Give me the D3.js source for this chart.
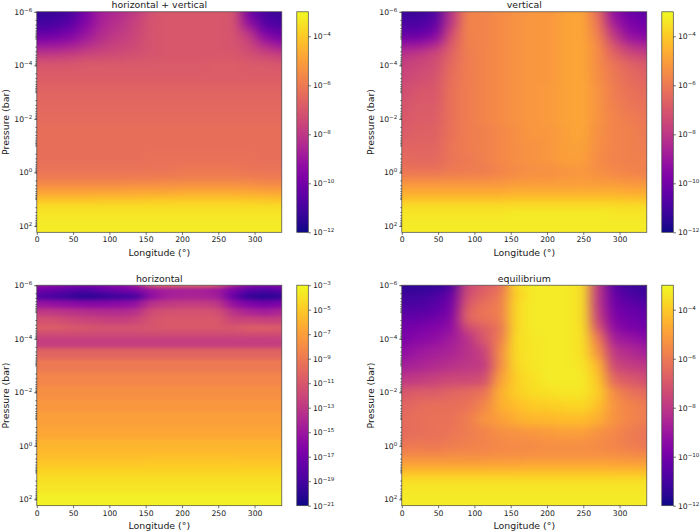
<!DOCTYPE html>
<html>
<head>
<meta charset="utf-8">
<script src="https://cdnjs.cloudflare.com/ajax/libs/d3/7.8.5/d3.min.js"></script>
<style>
body { margin: 0; background: #fff; }
text { font-family: "DejaVu Sans", sans-serif; fill: #222; }
</style>
</head>
<body>
<script>
// longitudes of the model columns (deg)
const longitudes = [0, 22.5, 45, 67.5, 90, 112.5, 135, 157.5, 180, 202.5, 225, 247.5, 270, 292.5, 315, 337.5];

// log10 pressure (bar) of the rows
const levels = [-6, -5.6, -5.3, -5, -4.7, -4.4, -4, -3.5, -3, -2.5, -2, -1.5, -1, -0.5, 0, 0.25, 0.5, 0.75, 1, 1.25, 1.5, 2, 2.24];
const fineLevels = [-6, -5.85, -5.6, -5.3, -5, -4.7, -4.4, -4.2, -4, -3.8, -3.5, -3, -2.5, -2, -1.5, -1, -0.5, 0, 0.25, 0.5, 0.75, 1, 1.25, 1.5, 2, 2.24];

// log10 abundance, one row per level, one value per longitude
const bothValues = [
  [-11.4,-11.3,-11.0,-9.8,-8.7,-8.4,-7.9,-7.2,-7.0,-7.0,-7.0,-7.0,-7.0,-10.0,-11.0,-11.3],
  [-11.1,-11.0,-10.6,-9.6,-8.6,-8.2,-7.7,-7.1,-7.0,-7.0,-7.0,-7.0,-7.1,-9.3,-10.7,-11.0],
  [-10.5,-10.4,-10.0,-9.2,-8.4,-8.0,-7.6,-7.1,-7.0,-7.0,-7.0,-7.0,-7.1,-8.3,-10.0,-10.4],
  [-9.8,-9.7,-9.4,-8.8,-8.2,-7.8,-7.5,-7.1,-7.0,-7.0,-7.0,-7.0,-7.1,-7.7,-9.2,-9.8],
  [-8.8,-8.8,-8.6,-8.2,-7.8,-7.6,-7.4,-7.1,-7.0,-7.0,-7.0,-7.0,-7.1,-7.4,-8.2,-8.8],
  [-7.8,-7.8,-7.7,-7.5,-7.4,-7.3,-7.2,-7.1,-7.0,-7.0,-7.0,-7.0,-7.0,-7.2,-7.5,-7.7],
  [-7.0,-7.0,-7.0,-6.9,-6.9,-6.9,-6.9,-6.9,-6.9,-6.9,-6.9,-6.8,-6.8,-6.9,-6.9,-7.0],
  [-6.8,-6.8,-6.8,-6.8,-6.8,-6.8,-6.8,-6.8,-6.8,-6.8,-6.8,-6.8,-6.8,-6.8,-6.8,-6.8],
  [-6.6,-6.6,-6.6,-6.6,-6.6,-6.6,-6.6,-6.6,-6.6,-6.6,-6.6,-6.6,-6.6,-6.6,-6.6,-6.6],
  [-6.5,-6.5,-6.5,-6.5,-6.5,-6.5,-6.5,-6.5,-6.5,-6.5,-6.5,-6.5,-6.5,-6.5,-6.5,-6.5],
  [-6.4,-6.4,-6.4,-6.4,-6.4,-6.4,-6.4,-6.4,-6.4,-6.4,-6.4,-6.4,-6.4,-6.4,-6.4,-6.4],
  [-6.3,-6.3,-6.3,-6.3,-6.3,-6.3,-6.3,-6.3,-6.3,-6.3,-6.3,-6.3,-6.3,-6.3,-6.3,-6.3],
  [-6.3,-6.3,-6.3,-6.3,-6.3,-6.3,-6.3,-6.3,-6.3,-6.3,-6.3,-6.3,-6.3,-6.3,-6.3,-6.3],
  [-6.3,-6.3,-6.3,-6.3,-6.3,-6.3,-6.3,-6.2,-6.2,-6.2,-6.2,-6.2,-6.2,-6.2,-6.3,-6.3],
  [-6.1,-6.1,-6.1,-6.1,-6.1,-6.1,-6.1,-6.1,-6.1,-6.0,-6.0,-6.0,-6.0,-6.1,-6.1,-6.1],
  [-5.9,-5.9,-5.9,-5.9,-5.9,-5.9,-5.9,-5.9,-5.8,-5.8,-5.8,-5.8,-5.8,-5.8,-5.9,-5.9],
  [-5.4,-5.4,-5.4,-5.4,-5.4,-5.4,-5.3,-5.3,-5.3,-5.3,-5.3,-5.3,-5.3,-5.3,-5.4,-5.4],
  [-4.9,-4.9,-4.9,-4.9,-4.8,-4.8,-4.8,-4.8,-4.8,-4.7,-4.7,-4.7,-4.7,-4.8,-4.8,-4.9],
  [-4.2,-4.2,-4.2,-4.2,-4.2,-4.2,-4.2,-4.1,-4.1,-4.1,-4.1,-4.1,-4.1,-4.1,-4.2,-4.2],
  [-3.6,-3.6,-3.6,-3.6,-3.6,-3.6,-3.6,-3.6,-3.6,-3.6,-3.6,-3.6,-3.6,-3.6,-3.6,-3.6],
  [-3.4,-3.4,-3.4,-3.4,-3.4,-3.4,-3.4,-3.4,-3.4,-3.4,-3.4,-3.4,-3.4,-3.4,-3.4,-3.4],
  [-3.3,-3.3,-3.3,-3.3,-3.3,-3.3,-3.3,-3.3,-3.3,-3.3,-3.3,-3.3,-3.3,-3.3,-3.3,-3.3],
  [-3.3,-3.3,-3.3,-3.3,-3.3,-3.3,-3.3,-3.3,-3.3,-3.3,-3.3,-3.3,-3.3,-3.3,-3.3,-3.3]
];

const verticalValues = [
  [-11.3,-11.3,-10.9,-8.2,-5.7,-5.7,-5.5,-5.3,-5.2,-5.2,-4.9,-4.8,-6.4,-9.3,-10.2,-10.5],
  [-10.9,-10.9,-10.5,-8.0,-5.7,-5.7,-5.5,-5.3,-5.2,-5.2,-4.9,-4.8,-6.1,-8.9,-9.8,-10.1],
  [-10.5,-10.5,-10.0,-7.5,-5.7,-5.7,-5.5,-5.3,-5.2,-5.2,-4.9,-4.8,-5.9,-8.2,-9.5,-9.8],
  [-9.8,-9.8,-9.3,-7.1,-5.8,-5.7,-5.5,-5.3,-5.2,-5.2,-4.9,-4.8,-5.7,-7.7,-9.0,-9.3],
  [-8.8,-8.7,-8.2,-6.8,-5.8,-5.7,-5.5,-5.3,-5.2,-5.2,-4.9,-4.8,-5.5,-7.0,-8.0,-8.4],
  [-8.1,-7.8,-7.5,-6.6,-5.9,-5.7,-5.5,-5.3,-5.2,-5.2,-4.9,-4.8,-5.5,-6.6,-7.3,-7.7],
  [-7.7,-7.5,-7.3,-6.4,-5.9,-5.7,-5.5,-5.3,-5.2,-5.2,-4.9,-4.8,-5.5,-6.1,-6.6,-6.9],
  [-7.5,-7.3,-7.1,-6.3,-5.9,-5.7,-5.5,-5.3,-5.2,-5.2,-4.9,-4.8,-5.4,-6.0,-6.4,-6.6],
  [-7.3,-7.0,-7.0,-6.2,-5.9,-5.7,-5.5,-5.3,-5.2,-5.1,-4.9,-4.8,-5.3,-5.9,-6.2,-6.4],
  [-7.1,-6.9,-6.9,-6.2,-5.9,-5.7,-5.5,-5.3,-5.2,-5.1,-4.9,-4.8,-5.3,-5.8,-6.1,-6.2],
  [-7.0,-6.8,-6.8,-6.2,-5.9,-5.7,-5.5,-5.3,-5.2,-5.1,-4.9,-4.8,-5.3,-5.7,-5.9,-6.1],
  [-6.9,-6.7,-6.7,-6.2,-5.9,-5.8,-5.6,-5.4,-5.2,-5.2,-5.0,-4.8,-5.4,-5.7,-5.8,-6.0],
  [-6.6,-6.6,-6.6,-6.1,-5.9,-5.8,-5.6,-5.4,-5.3,-5.2,-5.0,-4.9,-5.4,-5.7,-5.8,-5.9],
  [-6.4,-6.5,-6.5,-6.1,-6.0,-5.8,-5.6,-5.4,-5.3,-5.2,-5.0,-5.0,-5.5,-5.7,-5.8,-5.8],
  [-6.1,-6.1,-6.1,-6.0,-5.9,-5.9,-5.7,-5.5,-5.4,-5.4,-5.3,-5.2,-5.4,-5.6,-5.7,-5.8],
  [-5.6,-5.6,-5.6,-5.5,-5.5,-5.5,-5.4,-5.3,-5.2,-5.2,-5.1,-5.1,-5.2,-5.3,-5.4,-5.5],
  [-5.1,-5.1,-5.1,-5.1,-5.1,-5.1,-5.1,-5.0,-5.0,-5.0,-5.0,-5.0,-5.0,-5.0,-5.1,-5.1],
  [-4.7,-4.7,-4.7,-4.7,-4.7,-4.7,-4.7,-4.6,-4.6,-4.6,-4.6,-4.6,-4.6,-4.6,-4.7,-4.7],
  [-4.2,-4.2,-4.2,-4.2,-4.2,-4.2,-4.2,-4.1,-4.1,-4.1,-4.1,-4.1,-4.1,-4.1,-4.2,-4.2],
  [-3.6,-3.6,-3.6,-3.6,-3.6,-3.6,-3.6,-3.6,-3.6,-3.6,-3.6,-3.6,-3.6,-3.6,-3.6,-3.6],
  [-3.4,-3.4,-3.4,-3.4,-3.4,-3.4,-3.4,-3.3,-3.3,-3.3,-3.3,-3.3,-3.3,-3.4,-3.4,-3.4],
  [-3.3,-3.3,-3.3,-3.3,-3.3,-3.3,-3.3,-3.3,-3.3,-3.3,-3.3,-3.3,-3.3,-3.3,-3.3,-3.3],
  [-3.3,-3.3,-3.3,-3.3,-3.3,-3.3,-3.3,-3.3,-3.3,-3.3,-3.3,-3.3,-3.3,-3.3,-3.3,-3.3]
];

const horizontalValues = [
  [-15.2,-15.6,-16.0,-16.3,-16.0,-15.6,-14.7,-9.8,-9.1,-9.1,-9.1,-9.8,-13.8,-15.6,-16.0,-15.6],
  [-17.0,-17.4,-18.1,-18.5,-17.8,-17.0,-16.5,-15.2,-14.5,-14.5,-14.5,-14.9,-16.5,-18.1,-18.5,-17.8],
  [-18.4,-18.8,-19.5,-20.1,-19.6,-19.2,-19.0,-15.6,-14.5,-14.2,-14.2,-14.5,-17.4,-19.7,-20.1,-19.6],
  [-15.2,-15.4,-15.7,-16.0,-16.0,-15.8,-15.5,-13.2,-12.8,-12.6,-12.6,-12.8,-15.4,-16.4,-16.9,-16.4],
  [-12.9,-12.9,-13.2,-13.5,-13.7,-13.7,-13.5,-11.7,-11.4,-11.3,-11.3,-11.4,-13.3,-14.2,-14.6,-14.0],
  [-11.4,-11.4,-11.8,-12.2,-12.3,-12.5,-12.2,-11.2,-10.9,-10.9,-10.9,-10.9,-12.2,-12.2,-12.4,-12.4],
  [-10.6,-10.7,-10.9,-11.1,-11.3,-11.3,-11.3,-11.1,-10.9,-10.9,-10.9,-10.9,-11.1,-10.6,-10.6,-10.9],
  [-11.6,-11.6,-11.6,-11.7,-11.7,-11.7,-11.7,-11.6,-11.6,-11.6,-11.6,-11.6,-11.6,-11.5,-11.5,-11.6],
  [-12.4,-12.4,-12.4,-12.4,-12.4,-12.4,-12.4,-12.4,-12.4,-12.4,-12.4,-12.4,-12.4,-12.4,-12.4,-12.4],
  [-12.6,-12.6,-12.6,-12.6,-12.6,-12.6,-12.6,-12.6,-12.6,-12.6,-12.6,-12.6,-12.6,-12.6,-12.6,-12.6],
  [-10.2,-10.2,-10.2,-10.2,-10.2,-10.2,-10.2,-10.2,-10.2,-10.2,-10.2,-10.2,-10.2,-10.2,-10.2,-10.2],
  [-9.0,-9.0,-9.0,-9.0,-9.0,-9.0,-9.0,-9.0,-9.0,-9.0,-9.0,-9.0,-9.0,-9.0,-9.0,-9.0],
  [-8.3,-8.3,-8.3,-8.3,-8.3,-8.3,-8.3,-8.3,-8.3,-8.3,-8.3,-8.3,-8.3,-8.3,-8.3,-8.3],
  [-7.8,-7.8,-7.8,-7.8,-7.8,-7.8,-7.8,-7.8,-7.8,-7.8,-7.8,-7.8,-7.8,-7.8,-7.8,-7.8],
  [-7.4,-7.4,-7.4,-7.4,-7.4,-7.4,-7.4,-7.4,-7.4,-7.4,-7.4,-7.4,-7.4,-7.4,-7.4,-7.4],
  [-7.0,-7.0,-7.0,-7.0,-7.0,-7.0,-7.0,-7.0,-7.0,-7.0,-7.0,-7.0,-7.0,-7.0,-7.0,-7.0],
  [-6.6,-6.6,-6.6,-6.6,-6.6,-6.6,-6.6,-6.6,-6.6,-6.6,-6.6,-6.6,-6.6,-6.6,-6.6,-6.6],
  [-6.0,-6.0,-6.0,-6.0,-6.0,-6.0,-6.0,-6.0,-6.0,-6.0,-6.0,-6.0,-6.0,-6.0,-6.0,-6.0],
  [-5.7,-5.7,-5.7,-5.7,-5.7,-5.7,-5.7,-5.7,-5.7,-5.7,-5.7,-5.7,-5.7,-5.7,-5.7,-5.7],
  [-5.4,-5.4,-5.4,-5.4,-5.4,-5.4,-5.4,-5.3,-5.3,-5.3,-5.3,-5.3,-5.3,-5.4,-5.4,-5.4],
  [-5.0,-5.0,-5.0,-5.0,-5.0,-5.0,-5.0,-4.9,-4.9,-4.9,-4.9,-4.9,-4.9,-5.0,-5.0,-5.0],
  [-4.5,-4.5,-4.5,-4.5,-4.5,-4.5,-4.5,-4.5,-4.5,-4.5,-4.5,-4.5,-4.5,-4.5,-4.5,-4.5],
  [-4.1,-4.1,-4.1,-4.1,-4.1,-4.1,-4.1,-4.1,-4.1,-4.1,-4.1,-4.1,-4.1,-4.1,-4.1,-4.1],
  [-3.8,-3.8,-3.8,-3.8,-3.8,-3.8,-3.8,-3.8,-3.8,-3.8,-3.8,-3.8,-3.8,-3.8,-3.8,-3.8],
  [-3.4,-3.4,-3.4,-3.4,-3.4,-3.4,-3.4,-3.4,-3.4,-3.4,-3.4,-3.4,-3.4,-3.4,-3.4,-3.4],
  [-3.3,-3.3,-3.3,-3.3,-3.3,-3.3,-3.3,-3.3,-3.3,-3.3,-3.3,-3.3,-3.3,-3.3,-3.3,-3.3]
];

const equilibriumValues = [
  [-11.5,-11.5,-11.4,-10.9,-7.5,-6.8,-6.4,-3.7,-3.3,-3.3,-3.3,-3.5,-8.0,-10.6,-11.1,-11.4],
  [-11.1,-11.1,-10.9,-10.2,-7.3,-6.6,-6.0,-3.9,-3.3,-3.3,-3.3,-3.5,-8.0,-10.2,-10.9,-11.1],
  [-10.9,-10.9,-10.6,-10.0,-7.0,-6.2,-5.9,-3.7,-3.3,-3.3,-3.3,-3.5,-8.0,-10.0,-10.4,-10.7],
  [-10.6,-10.6,-10.4,-9.8,-6.6,-6.1,-5.9,-3.7,-3.3,-3.3,-3.3,-3.5,-7.8,-9.8,-10.2,-10.4],
  [-10.2,-10.2,-10.0,-9.5,-6.6,-6.2,-5.9,-3.7,-3.3,-3.3,-3.3,-3.5,-7.6,-9.6,-10.0,-10.2],
  [-10.0,-9.8,-9.6,-9.3,-7.5,-6.8,-6.2,-3.7,-3.3,-3.3,-3.3,-3.5,-7.0,-9.3,-9.8,-10.0],
  [-9.8,-9.5,-9.3,-8.9,-8.2,-7.0,-5.9,-3.6,-3.4,-3.3,-3.3,-3.5,-5.9,-8.8,-9.1,-9.5],
  [-9.3,-9.0,-8.8,-8.6,-8.2,-7.7,-5.5,-3.6,-3.4,-3.3,-3.3,-3.5,-5.3,-8.0,-8.4,-8.8],
  [-8.8,-8.6,-8.4,-8.2,-8.0,-7.9,-5.5,-3.7,-3.4,-3.3,-3.3,-3.4,-4.4,-7.5,-7.8,-8.0],
  [-8.0,-7.9,-7.7,-7.5,-7.5,-7.3,-5.0,-3.9,-3.5,-3.3,-3.3,-3.3,-4.1,-6.6,-7.0,-7.3],
  [-7.0,-6.8,-6.8,-6.6,-6.4,-6.2,-4.6,-3.9,-3.6,-3.5,-3.4,-3.4,-3.9,-5.5,-6.2,-6.4],
  [-6.6,-6.4,-6.3,-6.3,-6.2,-5.7,-4.6,-4.3,-4.0,-3.9,-3.8,-3.7,-4.2,-5.3,-5.7,-6.0],
  [-6.4,-6.3,-6.2,-6.2,-5.9,-5.3,-5.0,-4.6,-4.4,-4.4,-4.3,-4.3,-4.6,-5.3,-5.7,-5.9],
  [-6.4,-6.3,-6.2,-6.1,-5.9,-5.7,-5.4,-5.3,-5.2,-5.1,-5.0,-5.0,-5.3,-5.6,-5.9,-6.1],
  [-6.1,-6.0,-6.1,-5.9,-5.8,-5.7,-5.6,-5.5,-5.5,-5.4,-5.4,-5.4,-5.5,-5.7,-5.9,-6.1],
  [-5.7,-5.7,-5.7,-5.6,-5.6,-5.6,-5.5,-5.5,-5.4,-5.4,-5.4,-5.4,-5.4,-5.5,-5.6,-5.7],
  [-5.3,-5.3,-5.3,-5.3,-5.3,-5.3,-5.2,-5.2,-5.2,-5.2,-5.2,-5.2,-5.2,-5.2,-5.3,-5.3],
  [-4.8,-4.8,-4.8,-4.8,-4.8,-4.8,-4.8,-4.8,-4.7,-4.7,-4.7,-4.7,-4.7,-4.8,-4.8,-4.8],
  [-4.2,-4.2,-4.2,-4.2,-4.2,-4.2,-4.2,-4.2,-4.2,-4.2,-4.2,-4.2,-4.2,-4.2,-4.2,-4.2],
  [-3.6,-3.6,-3.6,-3.6,-3.6,-3.6,-3.6,-3.6,-3.6,-3.6,-3.6,-3.6,-3.6,-3.6,-3.6,-3.6],
  [-3.4,-3.4,-3.4,-3.4,-3.4,-3.4,-3.4,-3.4,-3.4,-3.4,-3.4,-3.4,-3.4,-3.4,-3.4,-3.4],
  [-3.3,-3.3,-3.3,-3.3,-3.3,-3.3,-3.3,-3.3,-3.3,-3.3,-3.3,-3.3,-3.3,-3.3,-3.3,-3.3],
  [-3.3,-3.3,-3.3,-3.3,-3.3,-3.3,-3.3,-3.3,-3.3,-3.3,-3.3,-3.3,-3.3,-3.3,-3.3,-3.3]
];

// tick labels
const xTicks = [0, 50, 100, 150, 200, 250, 300];
const yTicks = [-6, -4, -2, 0, 2];
const barTicks = [-12, -10, -8, -6, -4];
const barTicksWide = [-21, -19, -17, -15, -13, -11, -9, -7, -5, -3];

const titles = ["horizontal + vertical", "vertical", "horizontal", "equilibrium"];

// chart size
const width = 700;
const height = 531;
const plotW = 245;
const plotH = 220.5;
const barGap = 15;
const barW = 11.5;
const pad = 30; // cells on the edge run on past the clip so the blur stays solid

const panels = [
  { title: titles[0], x: 36.8, y: 11.8, grid: bothValues, rows: levels, low: -12, ticks: barTicks, blur: "6.5 4" },
  { title: titles[1], x: 401.8, y: 11.8, grid: verticalValues, rows: levels, low: -12, ticks: barTicks, blur: "6.5 4" },
  { title: titles[2], x: 36.8, y: 285.2, grid: horizontalValues, rows: fineLevels, low: -21, ticks: barTicksWide, blur: "6.5 2" },
  { title: titles[3], x: 401.8, y: 285.2, grid: equilibriumValues, rows: levels, low: -12, ticks: barTicks, blur: "6.5 4" }
];

const svg = d3.select("body")
  .append("svg")
  .attr("width", width)
  .attr("height", height)
  .style("display", "block");

const defs = svg.append("defs");

// writes 10 with a raised exponent into a tick label
function powerLabel(sel, size) {
  sel.each(function (d) {
    const t = d3.select(this).text("10");
    t.append("tspan")
      .attr("dy", -3)
      .attr("font-size", size * 0.72)
      .text(String(Math.round(Math.log10(d))).replace("-", "\u2212"));
  });
}

function styleAxis(g) {
  g.select(".domain").remove();
  g.selectAll("line").attr("stroke", "#333").attr("stroke-width", 0.7);
}

panels.forEach((p, n) => {
  const g = svg.append("g").attr("transform", "translate(" + p.x + "," + p.y + ")");

  // scales
  const xScale = d3.scaleLinear().domain([0, 337.5]).range([0, plotW]);
  const yScale = d3.scaleLog().domain([1e-6, Math.pow(10, 2.24)]).range([0, plotH]);
  const color = d3.scaleSequentialLog(d3.interpolatePlasma).domain([Math.pow(10, p.low), 1e-3]);
  const barScale = d3.scaleLog().domain([Math.pow(10, p.low), 1e-3]).range([plotH, 0]);

  // cell edges sit halfway between neighbouring grid points
  const xEdge = i => i <= 0 ? -pad : i >= longitudes.length ? plotW + pad
    : (xScale(longitudes[i - 1]) + xScale(longitudes[i])) / 2;
  const yEdge = j => j <= 0 ? -pad : j >= p.rows.length ? plotH + pad
    : (yScale(Math.pow(10, p.rows[j - 1])) + yScale(Math.pow(10, p.rows[j]))) / 2;

  const cells = [];
  p.grid.forEach((row, j) => row.forEach((v, i) => cells.push({ i, j, v })));

  // soft shading, wider across longitude where the columns are further apart
  defs.append("filter")
    .attr("id", "shade" + n)
    .attr("x", "-15%").attr("y", "-15%")
    .attr("width", "130%").attr("height", "130%")
    .attr("color-interpolation-filters", "sRGB")
    .append("feGaussianBlur")
    .attr("stdDeviation", p.blur);

  // cells
  defs.append("clipPath").attr("id", "clip" + n)
    .append("rect").attr("width", plotW).attr("height", plotH);

  g.append("g")
    .attr("clip-path", "url(#clip" + n + ")")
    .append("g")
    .attr("filter", "url(#shade" + n + ")")
    .selectAll("rect")
    .data(cells)
    .enter()
    .append("rect")
    .attr("x", d => xEdge(d.i))
    .attr("y", d => yEdge(d.j))
    .attr("width", d => xEdge(d.i + 1) - xEdge(d.i))
    .attr("height", d => yEdge(d.j + 1) - yEdge(d.j))
    .attr("fill", d => color(Math.pow(10, d.v)))
    .attr("shape-rendering", "crispEdges");

  // frame
  g.append("rect")
    .attr("width", plotW).attr("height", plotH)
    .attr("fill", "none").attr("stroke", "#444").attr("stroke-width", 0.7);

  // bottom axis
  const bottom = g.append("g")
    .attr("transform", "translate(0," + plotH + ")")
    .call(d3.axisBottom(xScale).tickValues(xTicks).tickSize(2.6).tickPadding(2));
  styleAxis(bottom);
  bottom.selectAll("text").attr("font-size", 7.7).style("font-family", null);

  // left axis, minor ticks first
  const minor = [];
  d3.range(-6, 3).forEach(k => d3.range(1, 10).forEach(m => {
    const v = m * Math.pow(10, k);
    if (v >= 1e-6 && v <= Math.pow(10, 2.24)) minor.push(v);
  }));
  styleAxis(g.append("g")
    .call(d3.axisLeft(yScale).tickValues(minor).tickSize(1.5).tickFormat("")));

  const left = g.append("g")
    .call(d3.axisLeft(yScale).tickValues(yTicks.map(k => Math.pow(10, k))).tickSize(2.6).tickPadding(2));
  styleAxis(left);
  left.selectAll("text").attr("font-size", 7.7).call(powerLabel, 7.7);

  // labels
  g.append("text")
    .attr("x", plotW / 2).attr("y", -3.6)
    .attr("text-anchor", "middle").attr("font-size", 9.4)
    .text(p.title);
  g.append("text")
    .attr("x", plotW / 2).attr("y", plotH + 23.5)
    .attr("text-anchor", "middle").attr("font-size", 9.4)
    .text("Longitude (\u00b0)");
  g.append("text")
    .attr("transform", "translate(-28.3," + plotH / 2 + ") rotate(-90)")
    .attr("text-anchor", "middle").attr("font-size", 9.4)
    .text("Pressure (bar)");

  // colorbar
  const grad = defs.append("linearGradient")
    .attr("id", "bar" + n)
    .attr("x1", 0).attr("x2", 0).attr("y1", 1).attr("y2", 0);
  d3.range(0, 21).forEach(s => {
    grad.append("stop")
      .attr("offset", s / 20)
      .attr("stop-color", d3.interpolatePlasma(s / 20));
  });

  const bar = g.append("g").attr("transform", "translate(" + (plotW + barGap) + ",0)");
  bar.append("rect")
    .attr("width", barW).attr("height", plotH)
    .attr("fill", "url(#bar" + n + ")")
    .attr("stroke", "#444").attr("stroke-width", 0.7);

  const right = bar.append("g")
    .attr("transform", "translate(" + barW + ",0)")
    .call(d3.axisRight(barScale).tickValues(p.ticks.map(k => Math.pow(10, k))).tickSize(2.6).tickPadding(2));
  styleAxis(right);
  right.selectAll("text").attr("font-size", 7.7).call(powerLabel, 7.7);
});
</script>
</body>
</html>
